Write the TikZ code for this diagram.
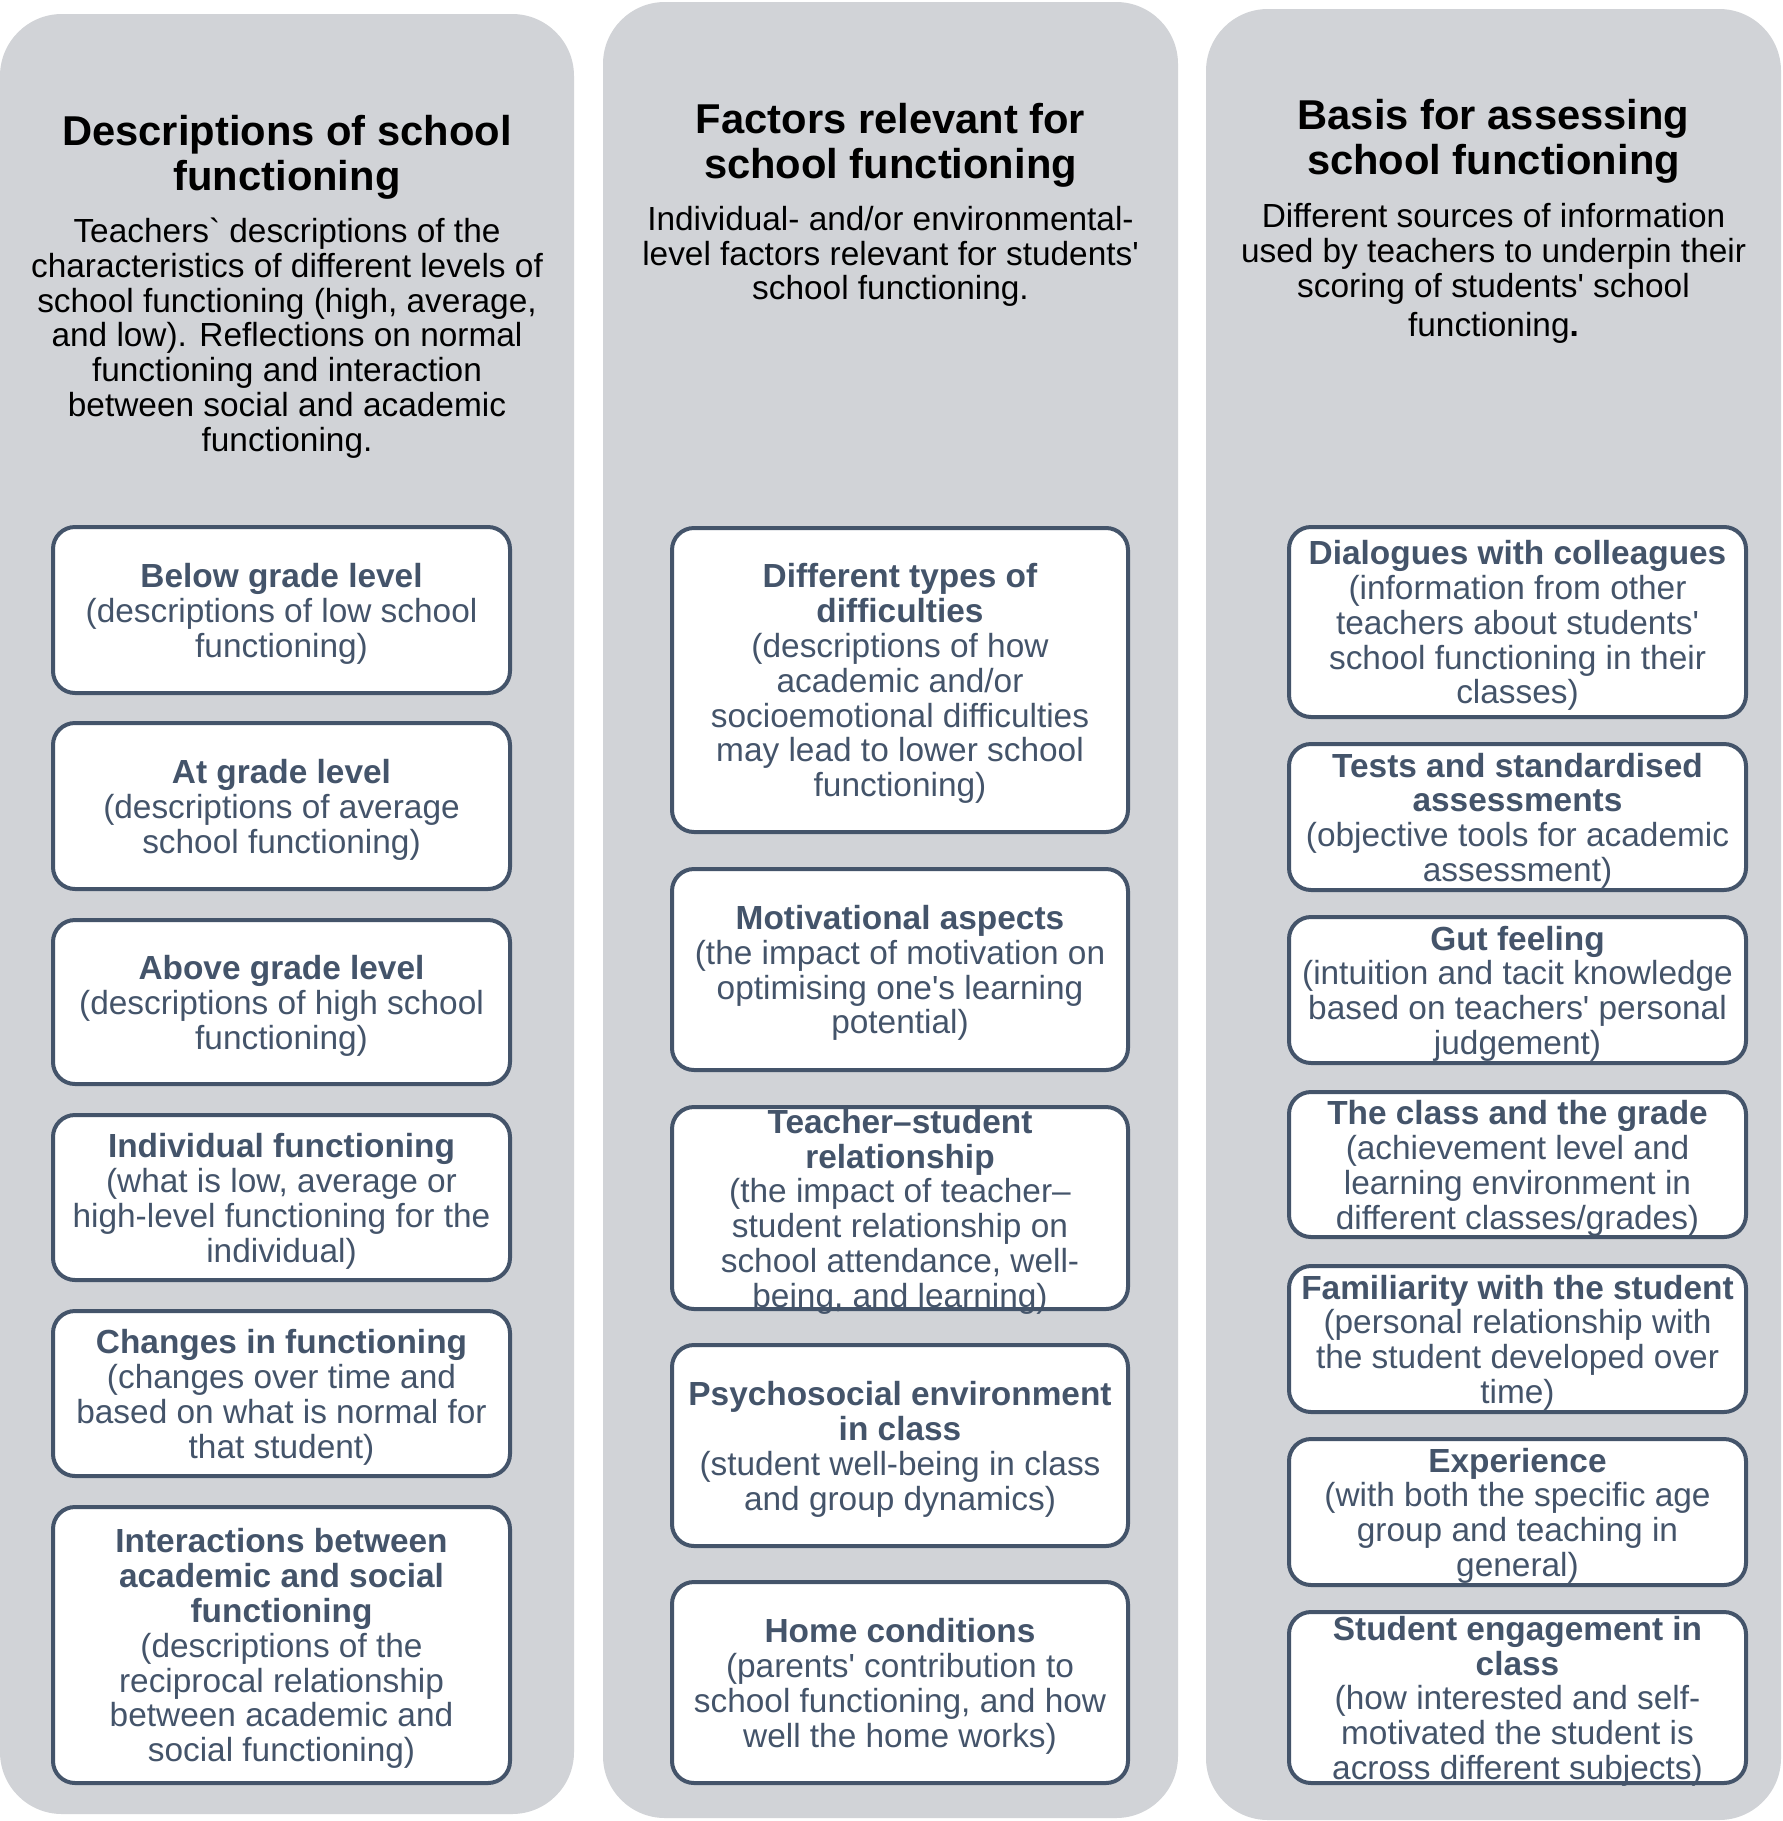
\documentclass[tikz,border=0pt]{standalone}
\usepackage{fontspec}
\setmainfont{Liberation Sans}
\definecolor{panelc}{HTML}{D1D3D7}
\definecolor{boxc}{HTML}{44546A}
\newcommand{\ap}{\textquotesingle}
\newcommand{\st}{\rule{0pt}{31.5pt}}
\begin{document}
\begin{tikzpicture}[x=1pt,y=-1pt,
  panelbox/.style={draw=none, fill=panelc, rounded corners=62pt, inner sep=0},
  titletext/.style={font=\bfseries\fontsize{41.7}{45}\selectfont, align=center, text=black, inner sep=0},
  desctext/.style={font=\fontsize{33.4}{34.8}\selectfont, align=center, text=black, inner sep=0},
  bx/.style={draw=boxc, line width=4pt, fill=white, rounded corners=22pt, inner sep=0,
    align=center, text=boxc, font=\fontsize{33.4}{34.8}\selectfont}]
\useasboundingbox (0,0) rectangle (1783,1821);
\fill[white] (0,0) rectangle (1783,1821);

% panels
\node[panelbox, minimum width=574pt, minimum height=1800pt] (p1) at (287,914) {};
\node[panelbox, minimum width=575pt, minimum height=1816pt] (p2) at (890.5,910) {};
\node[panelbox, minimum width=575pt, minimum height=1811pt] (p3) at (1493.5,914.5) {};

% titles
\node[titletext] (t1) at (287,157) {Descriptions of school\\functioning};
\node[titletext] (t2) at (890.5,145) {Factors relevant for\\school functioning};
\node[titletext] (t3) at (1493.5,141.5) {Basis for assessing\\school functioning};

% descriptions
\node[desctext] (d1) at (287,338) {Teachers\textasciigrave{} descriptions of the\\characteristics of different levels of\\school functioning (high, average,\\and low). Reflections on normal\\functioning and interaction\\between social and academic\\functioning.};
\node[desctext] (d2) at (890.5,256.5) {Individual- and/or environmental-\\level factors relevant for students\ap\\school functioning.};
\node[desctext] (d3) at (1493.5,273.5) {Different sources of information\\used by teachers to underpin their\\scoring of students\ap{} school\\[5pt]functioning{\bfseries .}};

% column 1
\node[bx, minimum width=457pt, minimum height=166pt] (a1) at (281.5,610) {\st\textbf{Below grade level}\\(descriptions of low school\\functioning)};
\node[bx, minimum width=457pt, minimum height=166pt] (a2) at (281.5,806) {\st\textbf{At grade level}\\(descriptions of average\\school functioning)};
\node[bx, minimum width=457pt, minimum height=164pt] (a3) at (281.5,1002) {\st\textbf{Above grade level}\\(descriptions of high school\\functioning)};
\node[bx, minimum width=457pt, minimum height=165pt] (a4) at (281.5,1197.5) {\st\textbf{Individual functioning}\\(what is low, average or\\high-level functioning for the\\individual)};
\node[bx, minimum width=457pt, minimum height=165pt] (a5) at (281.5,1393.5) {\st\textbf{Changes in functioning}\\(changes over time and\\based on what is normal for\\that student)};
\node[bx, minimum width=457pt, minimum height=276pt] (a6) at (281.5,1645) {\st\textbf{Interactions between}\\\textbf{academic and social}\\\textbf{functioning}\\(descriptions of the\\reciprocal relationship\\between academic and\\social functioning)};

% column 2
\node[bx, minimum width=456pt, minimum height=304pt] (b1) at (900,680) {\st\textbf{Different types of}\\\textbf{difficulties}\\(descriptions of how\\academic and/or\\socioemotional difficulties\\may lead to lower school\\functioning)};
\node[bx, minimum width=456pt, minimum height=201pt] (b2) at (900,969.5) {\st\textbf{Motivational aspects}\\(the impact of motivation on\\optimising one\ap s learning\\potential)};
\node[bx, minimum width=456pt, minimum height=202pt, inner ysep=-6pt] (b3) at (900,1208) {\st\textbf{Teacher–student}\\\textbf{relationship}\\(the impact of teacher–\\student relationship on\\school attendance, well-\\being, and learning)};
\node[bx, minimum width=456pt, minimum height=201pt] (b4) at (900,1445.5) {\st\textbf{Psychosocial environment}\\\textbf{in class}\\(student well-being in class\\and group dynamics)};
\node[bx, minimum width=456pt, minimum height=201pt] (b5) at (900,1682.5) {\st\textbf{Home conditions}\\(parents\ap{} contribution to\\school functioning, and how\\well the home works)};

% column 3
\node[bx, minimum width=457pt, minimum height=190pt] (c1) at (1517.5,622) {\st\textbf{Dialogues with colleagues}\\(information from other\\teachers about students\ap\\school functioning in their\\classes)};
\node[bx, minimum width=457pt, minimum height=146pt] (c2) at (1517.5,817) {\st\textbf{Tests and standardised}\\\textbf{assessments}\\(objective tools for academic\\assessment)};
\node[bx, minimum width=457pt, minimum height=146pt] (c3) at (1517.5,990) {\st\textbf{Gut feeling}\\(intuition and tacit knowledge\\based on teachers\ap{} personal\\judgement)};
\node[bx, minimum width=457pt, minimum height=145pt] (c4) at (1517.5,1164.5) {\st\textbf{The class and the grade}\\(achievement level and\\learning environment in\\different classes/grades)};
\node[bx, minimum width=457pt, minimum height=146pt] (c5) at (1517.5,1339) {\st\textbf{Familiarity with the student}\\(personal relationship with\\the student developed over\\time)};
\node[bx, minimum width=457pt, minimum height=146pt] (c6) at (1517.5,1512) {\st\textbf{Experience}\\(with both the specific age\\group and teaching in\\general)};
\node[bx, minimum width=457pt, minimum height=171pt, inner ysep=-5pt] (c7) at (1517.5,1697.5) {\st\textbf{Student engagement in}\\\textbf{class}\\(how interested and self-\\motivated the student is\\across different subjects)};
\end{tikzpicture}
\end{document}
